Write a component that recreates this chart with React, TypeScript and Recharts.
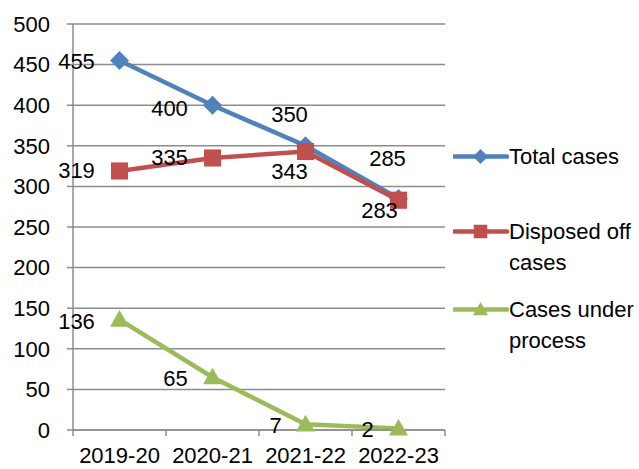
import React from "react";
import {
  CartesianGrid,
  LabelList,
  Line,
  LineChart,
  XAxis,
  YAxis,
} from "recharts";

const YEARS = ["2019-20", "2020-21", "2021-22", "2022-23"];
const TOTAL_CASES = [455, 400, 350, 285];
const DISPOSED_CASES = [319, 335, 343, 283];
const UNDER_PROCESS = [136, 65, 7, 2];
const Y_TICKS = [0, 50, 100, 150, 200, 250, 300, 350, 400, 450, 500];

const data = YEARS.map((year, i) => ({
  year,
  total: TOTAL_CASES[i],
  disposed: DISPOSED_CASES[i],
  process: UNDER_PROCESS[i],
}));

const W = 639;
const H = 469;
const PLOT_LEFT = 73;
const PLOT_RIGHT = 445;
const PLOT_TOP = 24;
const PLOT_BOTTOM = 430;
const BAND = (PLOT_RIGHT - PLOT_LEFT) / YEARS.length;
const FONT = "'Liberation Sans', Arial, sans-serif";
const GRID = "#8c8c8c";

type Shape = "diamond" | "square" | "triangle";

const series: { key: string; name: string[]; color: string; shape: Shape }[] = [
  { key: "total", name: ["Total cases"], color: "#4F81BD", shape: "diamond" },
  { key: "disposed", name: ["Disposed off", "cases"], color: "#C0504D", shape: "square" },
  { key: "process", name: ["Cases under", "process"], color: "#9BBB59", shape: "triangle" },
];

// label centre offsets from each point [dx, dy]
const LABEL_OFFSETS: Record<string, [number, number][]> = {
  total: [[-43, 1], [-43, 3], [-16, -31], [-11, -40]],
  disposed: [[-43, 0], [-43, 0], [-16, 20], [-19, 10]],
  process: [[-43, 2], [-37, 1], [-30, 1], [-31, 1]],
};

function marker(shape: Shape, cx: number, cy: number, r: number, fill: string, key?: string) {
  if (shape === "diamond") {
    const pts = `${cx},${cy - r} ${cx + r},${cy} ${cx},${cy + r} ${cx - r},${cy}`;
    return <polygon key={key} points={pts} fill={fill} />;
  }
  if (shape === "square") {
    const s = r * 0.9;
    return <rect key={key} x={cx - s} y={cy - s} width={s * 2} height={s * 2} fill={fill} />;
  }
  const pts = `${cx},${cy - r} ${cx + r},${cy + r * 0.75} ${cx - r},${cy + r * 0.75}`;
  return <polygon key={key} points={pts} fill={fill} />;
}

const XTick = (props: any) => {
  const { x, payload, index } = props;
  const y0 = PLOT_BOTTOM;
  return (
    <g>
      <line x1={x - BAND / 2} x2={x - BAND / 2} y1={y0} y2={y0 + 6} stroke={GRID} strokeWidth={1.5} />
      {index === YEARS.length - 1 && (
        <line x1={x + BAND / 2} x2={x + BAND / 2} y1={y0} y2={y0 + 6} stroke={GRID} strokeWidth={1.5} />
      )}
      <text x={x} y={y0 + 25} textAnchor="middle" dominantBaseline="central" fontSize={22} fill="#000" fontFamily={FONT}>
        {payload.value}
      </text>
    </g>
  );
};

const makeLabel = (key: string) => (props: any) => {
  const { x, y, value, index } = props;
  const [dx, dy] = LABEL_OFFSETS[key][index];
  return (
    <text x={x + dx} y={y + dy} textAnchor="middle" dominantBaseline="central" fontSize={22} fill="#000" fontFamily={FONT}>
      {value}
    </text>
  );
};

function LegendBox() {
  const tops = [141, 216, 294];
  return (
    <div style={{ position: "absolute", left: 0, top: 0, fontFamily: FONT, fontSize: 22 }}>
      {series.map((s, i) => (
        <div key={s.key} style={{ position: "absolute", left: 453, top: tops[i], width: 186, lineHeight: "31px" }}>
          <svg width={56} height={31} style={{ position: "absolute", left: 0, top: 0 }}>
            <line x1={1} x2={54} y1={15.5} y2={15.5} stroke={s.color} strokeWidth={4.5} strokeLinecap="round" />
            {marker(s.shape, 27.5, 15.5, 7.5, s.color)}
          </svg>
          <div style={{ marginLeft: 56, color: "#000", whiteSpace: "nowrap" }}>
            {s.name.map((n) => (
              <div key={n}>{n}</div>
            ))}
          </div>
        </div>
      ))}
    </div>
  );
}

export default function App() {
  return (
    <div style={{ position: "absolute", left: 0, top: 0, width: W, height: H, background: "#fff", fontFamily: FONT }}>
      <LineChart
        width={W}
        height={H}
        data={data}
        margin={{ top: PLOT_TOP, right: W - PLOT_RIGHT, bottom: 0, left: 0 }}
      >
        <CartesianGrid vertical={false} stroke={GRID} strokeWidth={1.5} />
        <XAxis
          dataKey="year"
          height={H - PLOT_BOTTOM}
          padding={{ left: BAND / 2, right: BAND / 2 }}
          axisLine={{ stroke: GRID, strokeWidth: 1.5 }}
          tickLine={false}
          tick={<XTick />}
          interval={0}
        />
        <YAxis
          width={PLOT_LEFT}
          domain={[0, 500]}
          ticks={Y_TICKS}
          interval={0}
          axisLine={{ stroke: GRID, strokeWidth: 1.5 }}
          tickLine={{ stroke: GRID, strokeWidth: 1.5 }}
          tickSize={6}
          tickMargin={17}
          tick={{ fill: "#000", fontSize: 22, fontFamily: FONT }}
        />
        {series.map((s) => (
          <Line
            key={s.key}
            dataKey={s.key}
            type="linear"
            stroke={s.color}
            strokeWidth={4.5}
            isAnimationActive={false}
            dot={(p: any) => marker(s.shape, p.cx, p.cy, 9.5, s.color, `${s.key}-${p.index}`)}
            activeDot={false}
          >
            <LabelList dataKey={s.key} content={makeLabel(s.key)} />
          </Line>
        ))}
      </LineChart>
      <LegendBox />
    </div>
  );
}
